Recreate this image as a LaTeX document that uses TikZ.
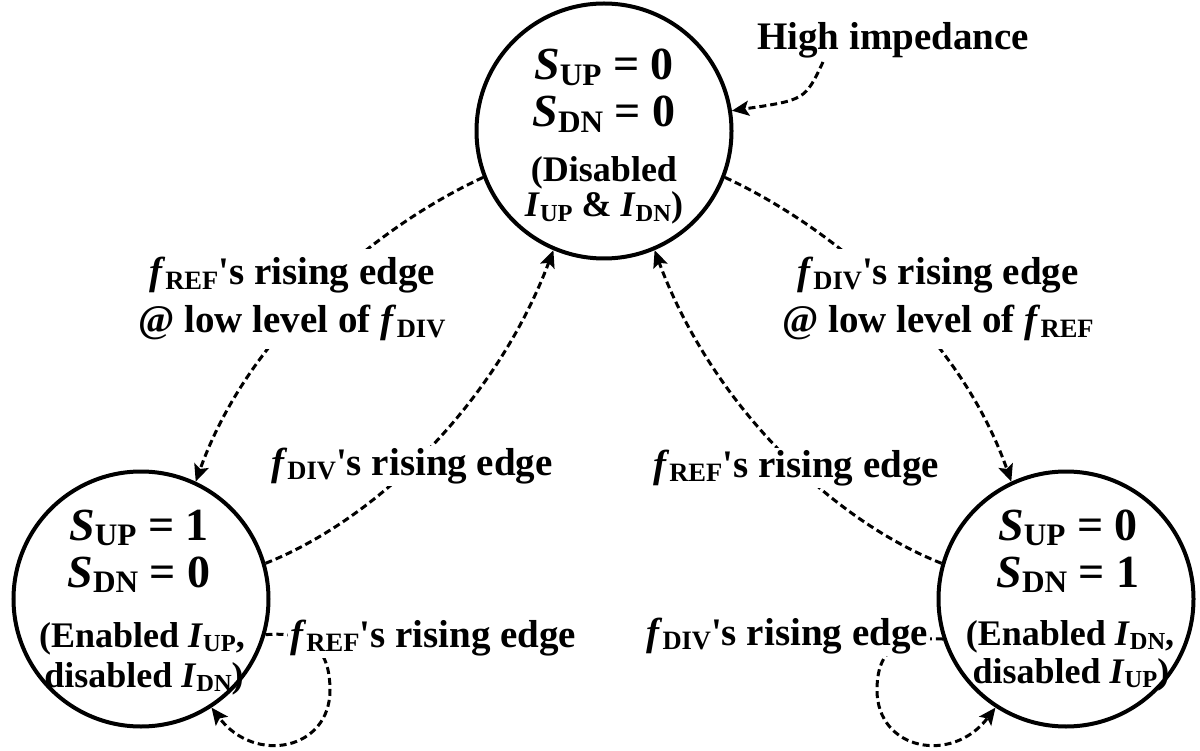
\documentclass[tikz,border=0pt]{standalone}
\usepackage{fontspec}
\newfontfamily\tnr{Liberation Serif}
\usetikzlibrary{arrows.meta}
\newcommand\sbs[1]{\raisebox{-0.12em}{\scalebox{0.68}{#1}}}
\newcommand\myfr{\textit{f}\sbs{REF}}
\newcommand\myfd{\textit{f}\sbs{DIV}}
\newcommand\myS{\textit{S}}
\newcommand\myI{\textit{I}}
\newcommand\twol[2]{\begin{tabular}[t]{@{}c@{}}#1\\#2\end{tabular}}
\begin{document}
\begin{tikzpicture}[x=1pt,y=-1pt,
  state/.style={circle,draw,line width=4pt,minimum size=255pt,inner sep=0pt},
  stxt/.style={anchor=base,inner sep=0pt,font=\tnr\bfseries\fontsize{46}{46}\selectfont},
  ptxt/.style={anchor=base,inner sep=0pt,font=\tnr\bfseries\fontsize{36}{36}\selectfont},
  lab/.style={fill=white,inner sep=2pt,font=\tnr\bfseries\fontsize{39}{48}\selectfont},
  trans/.style={line width=3pt,dash pattern=on 7pt off 4pt,-{Stealth[length=17pt,width=15pt,inset=3.5pt]}}]
\useasboundingbox (0,0) rectangle (1200,751);
% states
\node[state] (s0) at (604,131) {};
\node[state] (s1) at (141,599) {};
\node[state] (s2) at (1066,599) {};
% state texts
\node[stxt] (t0a) at (604,80) {\myS\sbs{UP} = 0};
\node[stxt] (t0b) at (604,127) {\myS\sbs{DN} = 0};
\node[ptxt] (t0c) at (604,182) {(Disabled};
\node[ptxt] (t0d) at (604,217) {\myI\sbs{UP} \& \myI\sbs{DN})};
\node[stxt] (t1a) at (139,540) {\myS\sbs{UP} = 1};
\node[stxt] (t1b) at (139,587) {\myS\sbs{DN} = 0};
\node[ptxt] (t1c) at (142,647) {(Enabled \myI\sbs{UP},};
\node[ptxt] (t1d) at (144,687) {disabled \myI\sbs{DN})};
\node[stxt] (t2a) at (1068,540) {\myS\sbs{UP} = 0};
\node[stxt] (t2b) at (1068,587) {\myS\sbs{DN} = 1};
\node[ptxt] (t2c) at (1070,645) {(Enabled \myI\sbs{DN},};
\node[ptxt] (t2d) at (1071,683) {disabled \myI\sbs{UP})};
% transitions
\draw[trans] (s0.201) .. controls (380,225) and (250,330) .. (s1.65);
\draw[trans] (s1.16) .. controls (375,520) and (495,405) .. (s0.247);
\draw[trans] (s0.339) .. controls (828,225) and (958,330) .. (s2.115);
\draw[trans] (s2.164) .. controls (832,520) and (712,405) .. (s0.293);
\draw[trans] (s1.344) .. controls (300,632) and (330,640) .. (330,690) .. controls (330,750) and (255,765) .. (s1.303);
\draw[trans] (s2.198) .. controls (907,638) and (877,642) .. (877,690) .. controls (877,750) and (952,765) .. (s2.237);
\coordinate (hiA) at (823,62);
\draw[trans] (hiA) .. controls (805,100) .. (s0.9);
% labels
\node[lab,anchor=base west] (hi) at (755,50) {High impedance};
\node[lab,anchor=base] (l1) at (292,285) {\twol{\myfr's rising edge}{@ low level of \myfd}};
\node[lab,anchor=base] (l2) at (412,475) {\myfd's rising edge};
\node[lab,anchor=base] (l3) at (938,285) {\twol{\myfd's rising edge}{@ low level of \myfr}};
\node[lab,anchor=base] (l4) at (796,477) {\myfr's rising edge};
\node[lab,anchor=base west] (l5) at (288,647) {\myfr's rising edge};
\node[lab,anchor=base east] (l6) at (930,645) {\myfd's rising edge};
\end{tikzpicture}
\end{document}
